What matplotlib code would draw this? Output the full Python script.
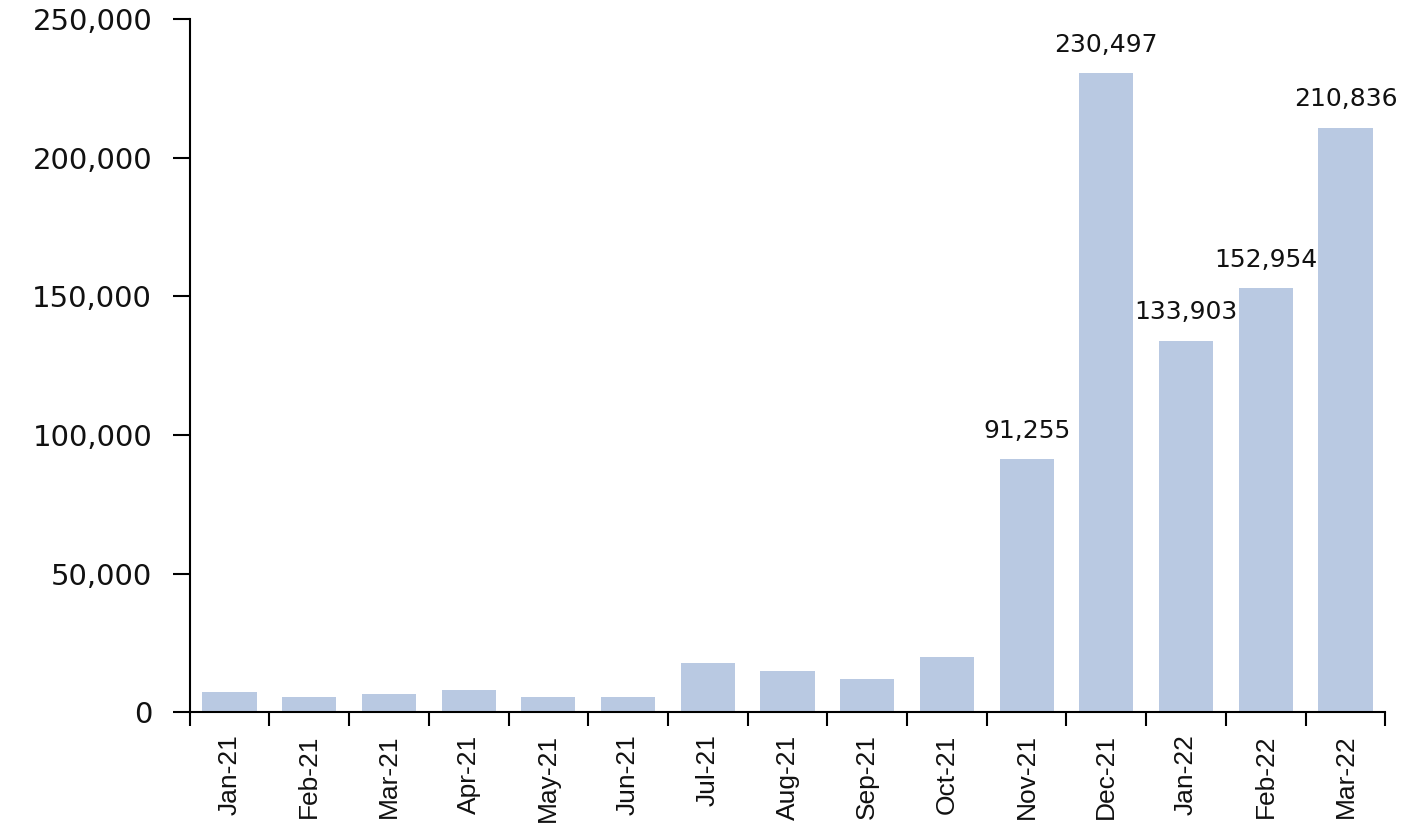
import numpy as np
import matplotlib
matplotlib.use("Agg")
import matplotlib.pyplot as plt
from matplotlib.ticker import FuncFormatter, FixedLocator

# monthly values
months = ['Jan-21', 'Feb-21', 'Mar-21', 'Apr-21', 'May-21', 'Jun-21', 'Jul-21', 'Aug-21',
          'Sep-21', 'Oct-21', 'Nov-21', 'Dec-21', 'Jan-22', 'Feb-22', 'Mar-22']
values = [7200, 5300, 6400, 8100, 5600, 5300, 17600, 14700,
          11800, 20000, 91255, 230497, 133903, 152954, 210836]
# only the big months carry a label
labeled = [10, 11, 12, 13, 14]

fig = plt.figure(figsize=(14.05, 8.32), dpi=100)
ax = fig.add_axes([0.135, 0.144, 0.851, 0.833])

x = np.arange(len(months))
ax.bar(x, values, width=0.68, color='#B9C9E2', zorder=2)

for i in labeled:
    ax.text(x[i], values[i] + 6000, f'{values[i]:,}', ha='center', va='bottom',
            fontsize=18, family='DejaVu Sans', color='#111111')

ax.set_xlim(-0.5, len(months) - 0.5)
ax.set_ylim(0, 250000)
ax.set_yticks(np.arange(0, 250001, 50000))
ax.yaxis.set_major_formatter(FuncFormatter(lambda v, p: f'{int(v):,}'))
ax.tick_params(axis='y', labelsize=21, length=12, width=1.5, pad=15,
               direction='out', labelcolor='#111111')

ax.set_xticks(x)
ax.set_xticklabels(months, rotation=90, fontsize=19, family='Liberation Sans', color='#111111')
ax.tick_params(axis='x', which='major', length=0, pad=16)
ax.xaxis.set_minor_locator(FixedLocator(np.arange(-0.5, len(months), 1.0)))
ax.tick_params(axis='x', which='minor', length=10, width=1.5, direction='out')

for s in ['top', 'right']:
    ax.spines[s].set_visible(False)
for s in ['left', 'bottom']:
    ax.spines[s].set_linewidth(1.5)

fig.savefig('out.png', dpi=100)
